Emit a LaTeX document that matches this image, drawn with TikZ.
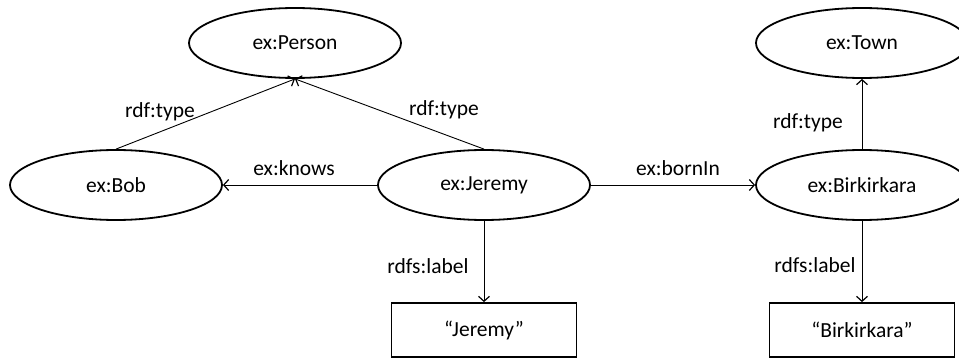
\documentclass[tikz,border=0pt]{standalone}
\usepackage{fontspec}
\setmainfont{Carlito}
\usetikzlibrary{arrows.meta,shapes.geometric}
\begin{document}
\begin{tikzpicture}[x=1pt,y=-1pt,
  every node/.style={font=\fontsize{21.5}{24}\selectfont, inner sep=0pt},
  res/.style={ellipse, draw, line width=1.8pt, minimum width=212pt, minimum height=70pt},
  lit/.style={rectangle, draw, line width=1.8pt, minimum width=185pt, minimum height=54pt},
  arr/.style={line width=0.9pt, -{Straight Barb[length=5pt,width=11pt,line width=1.2pt]}},
  lbl/.style={}]
\useasboundingbox (0,0) rectangle (959,358);
% resources
\node[res] (person) at (295,43) {ex:Person};
\node[res] (bob) at (116,185) {ex:Bob};
\node[res] (jeremy) at (484,185) {ex:Jeremy};
\node[res] (town) at (862,43) {ex:Town};
\node[res] (birk) at (862,185) {ex:Birkirkara};
% literals
\node[lit] (jlit) at (484,330) {“Jeremy”};
\node[lit] (blit) at (862,330) {“Birkirkara”};
% properties
\draw[arr] (bob.north) -- (person.south);
\draw[arr] (jeremy.north) -- (person.south);
\draw[arr] (jeremy.west) -- (bob.east);
\draw[arr] (jeremy.east) -- (birk.west);
\draw[arr] (jeremy.south) -- (jlit.north);
\draw[arr] (birk.north) -- (town.south);
\draw[arr] (birk.south) -- (blit.north);
% property labels
\node[lbl] (l1) at (160,112) {rdf:type};
\node[lbl] (l2) at (444,110) {rdf:type};
\node[lbl] (l3) at (294,168) {ex:knows};
\node[lbl] (l4) at (678,168) {ex:bornIn};
\node[lbl] (l5) at (428,266) {rdfs:label};
\node[lbl] (l6) at (808,123) {rdf:type};
\node[lbl] (l7) at (815,265) {rdfs:label};
\end{tikzpicture}
\end{document}
